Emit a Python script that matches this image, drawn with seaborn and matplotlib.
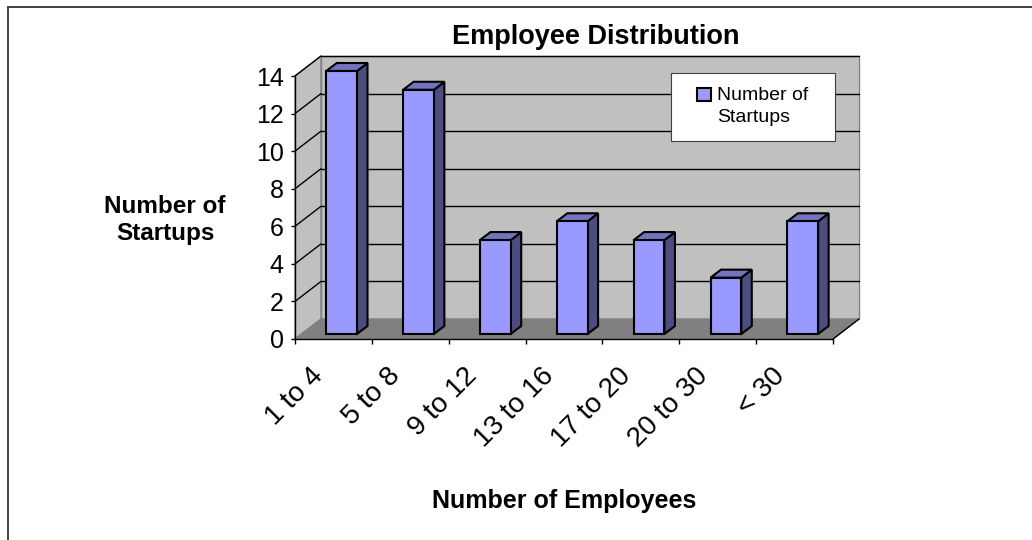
import numpy as np
import pandas as pd
import matplotlib
matplotlib.use("Agg")
import matplotlib.pyplot as plt
from matplotlib.patches import Polygon, Rectangle
from matplotlib.lines import Line2D
from matplotlib.transforms import Affine2D
from matplotlib.container import BarContainer
from matplotlib.legend_handler import HandlerPatch, update_from_first_child
import seaborn as sns

# ---- data ----
categories = ["1 to 4", "5 to 8", "9 to 12", "13 to 16", "17 to 20", "20 to 30", "< 30"]
startups = [14, 13, 5, 6, 5, 3, 6]
y_ticks = [0, 2, 4, 6, 8, 10, 12, 14]
series_name = "Number of\nStartups"
title = "Employee Distribution"
x_title = "Number of Employees"
y_title = "Number of\nStartups"

sns.set_style("ticks")
plt.rcParams["font.family"] = ["Liberation Sans", "DejaVu Sans"]
plt.rcParams.update({"text.color": "black", "axes.labelcolor": "black",
                     "xtick.color": "black", "ytick.color": "black"})

W, H, DPI = 1032, 540, 100
fig = plt.figure(figsize=(W / DPI, H / DPI), dpi=DPI)
fig.patch.set_facecolor("white")

# front plane of the 3-D plot area
ax = fig.add_axes([295 / W, (H - 339) / H, 538 / W, 263 / H])
ax.set_facecolor("none")

df = pd.DataFrame({"group": categories, "count": startups})
sns.barplot(data=df, x="group", y="count", width=0.40, color="#9999FF",
            saturation=1, edgecolor="black", linewidth=1.5,
            label=series_name, ax=ax, zorder=5)
bars = list(ax.patches)

ax.set_xlim(-0.5, len(categories) - 0.5)
ax.set_ylim(0, max(y_ticks))

# depth offsets (display pixels)
WALL_DX, WALL_DY = 26, 20      # front plane -> back wall
BAR_DX, BAR_DY = 8.2, 5        # front plane -> bar front faces
DEPTH_DX, DEPTH_DY = 10.5, 8   # bar depth


def px_to_data(dx, dy):
    inv = ax.transData.inverted()
    a = inv.transform([0, 0])
    b = inv.transform([dx, dy])
    return b[0] - a[0], b[1] - a[1]


wdx, wdy = px_to_data(WALL_DX, WALL_DY)
ddx, ddy = px_to_data(DEPTH_DX, DEPTH_DY)
x0, x1 = ax.get_xlim()
ymax = max(y_ticks)

wall_grey = "#C0C0C0"
floor_grey = "#808080"

# back wall
ax.add_patch(Polygon([(x0 + wdx, wdy), (x1 + wdx, wdy), (x1 + wdx, ymax + wdy),
                      (x0 + wdx, ymax + wdy)], closed=True, facecolor=wall_grey,
                     edgecolor="#808080", linewidth=1, zorder=0.5, clip_on=False))
# left wall
ax.add_patch(Polygon([(x0, 0), (x0, ymax), (x0 + wdx, ymax + wdy), (x0 + wdx, wdy)],
                     closed=True, facecolor=wall_grey, edgecolor="#808080",
                     linewidth=1, zorder=0.6, clip_on=False))
# floor
ax.add_patch(Polygon([(x0, 0), (x1, 0), (x1 + wdx, wdy), (x0 + wdx, wdy)],
                     closed=True, facecolor=floor_grey, edgecolor=floor_grey,
                     linewidth=1, zorder=0.7, clip_on=False))
ax.add_line(Line2D([x1, x1 + wdx], [0, wdy], color="black", linewidth=1,
                   zorder=0.8, clip_on=False))

# gridlines on back and left walls
for t in y_ticks[1:]:
    ax.add_line(Line2D([x0 + wdx, x1 + wdx], [t + wdy, t + wdy], color="black",
                       linewidth=1, zorder=0.9, clip_on=False))
    ax.add_line(Line2D([x0, x0 + wdx], [t, t + wdy], color="black",
                       linewidth=1, zorder=0.9, clip_on=False))

# bars: shift front faces into depth, add side and top faces
bar_shift = ax.transData + Affine2D().translate(BAR_DX, BAR_DY)
for p in bars:
    p.set_transform(bar_shift)
    p.set_clip_on(False)
    bx, bw, bh = p.get_x(), p.get_width(), p.get_height()
    xr = bx + bw
    side = Polygon([(xr, 0), (xr, bh), (xr + ddx, bh + ddy), (xr + ddx, ddy)],
                   closed=True, facecolor="#4D4D80", edgecolor="black",
                   linewidth=1.5, zorder=4.9, transform=bar_shift, clip_on=False)
    top = Polygon([(bx, bh), (xr, bh), (xr + ddx, bh + ddy), (bx + ddx, bh + ddy)],
                  closed=True, facecolor="#7373BF", edgecolor="black",
                  linewidth=1.5, zorder=4.9, transform=bar_shift, clip_on=False)
    ax.add_patch(side)
    ax.add_patch(top)

# spines / ticks
sns.despine(ax=ax, top=True, right=True)
for s in ("left", "bottom"):
    ax.spines[s].set_color("black")
    ax.spines[s].set_linewidth(1)
    ax.spines[s].set_zorder(3)

ax.set_yticks(y_ticks)
ax.set_yticklabels([str(v) for v in y_ticks])
ax.tick_params(axis="y", which="major", left=True, length=3.2, width=1,
               color="black", direction="out", labelsize=18, pad=5)

ax.set_xticks(range(len(categories)))
ax.set_xticklabels(categories, rotation=45, ha="right", va="center",
                   rotation_mode="anchor", fontsize=20)
ax.set_xticks(np.arange(x0, x1 + 0.01, 1.0), minor=True)
ax.tick_params(axis="x", which="major", bottom=True, length=0, pad=24)
ax.tick_params(axis="x", which="minor", bottom=True, length=3.6, width=1,
               color="black", direction="out")
for lab in ax.get_xticklabels():
    lab.set_transform(lab.get_transform() + Affine2D().translate(-14, 0))

# axis titles
ax.set_xlabel(x_title, fontsize=18, fontweight="bold", va="center")
ax.xaxis.set_label_coords(564 / W, (H - 501) / H, transform=fig.transFigure)
ax.set_ylabel(y_title, fontsize=17.5, fontweight="bold", rotation=0,
              ha="center", va="center", linespacing=1.2)
ax.yaxis.set_label_coords(165 / W, (H - 220) / H, transform=fig.transFigure)

fig.suptitle(title, x=596 / W, y=(H - 36.7) / H, va="center",
             fontsize=19.5, fontweight="bold")

# legend box
box = Rectangle((670.7 / W, (H - 141) / H), (835 - 670.7) / W, (141 - 73.3) / H,
                transform=fig.transFigure, facecolor="white",
                edgecolor="#404040", linewidth=0.8, zorder=6, clip_on=False)
ax.add_artist(box)


def top_swatch(legend, orig_handle, xdescent, ydescent, width, height, fontsize):
    # square swatch raised to sit beside the first label line
    return Rectangle((-xdescent, -ydescent + 8.3), width, height)


leg = ax.legend(loc="upper left", bbox_to_anchor=(697 / W, (H - 87) / H),
                bbox_transform=fig.transFigure, fontsize=14, frameon=False,
                handlelength=0.72, handleheight=0.72, handletextpad=0.3,
                borderpad=0, borderaxespad=0,
                handler_map={BarContainer: HandlerPatch(
                    patch_func=top_swatch, update_func=update_from_first_child)})
leg.set_zorder(7)
for txt in leg.get_texts():
    txt.set_linespacing(1.35)

# outer chart frame (top and left edges visible)
fig.add_artist(Line2D([8 / W, 8 / W], [0, (H - 7) / H], transform=fig.transFigure,
                      color="#333333", linewidth=1.3))
fig.add_artist(Line2D([8 / W, 1], [(H - 7) / H, (H - 7) / H], transform=fig.transFigure,
                      color="#333333", linewidth=1.3))

fig.savefig("out.png", dpi=DPI, facecolor="white")
